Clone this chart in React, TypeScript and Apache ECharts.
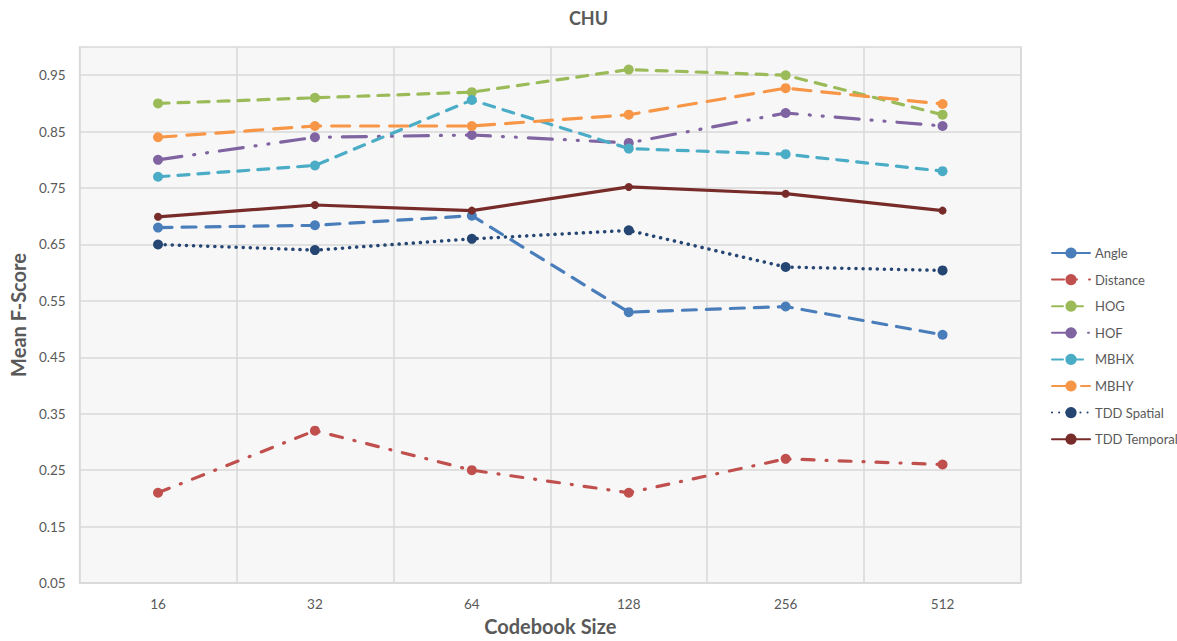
import React, { useEffect, useRef } from "react";
import * as echarts from "echarts";

const categories = ["16", "32", "64", "128", "256", "512"];
const yTicks = [0.05, 0.15, 0.25, 0.35, 0.45, 0.55, 0.65, 0.75, 0.85, 0.95];

const angle = [0.68, 0.684, 0.701, 0.53, 0.54, 0.49];
const distance = [0.21, 0.32, 0.25, 0.21, 0.27, 0.26];
const hog = [0.9, 0.91, 0.92, 0.96, 0.95, 0.88];
const hof = [0.8, 0.84, 0.844, 0.83, 0.883, 0.86];
const mbhx = [0.77, 0.79, 0.906, 0.82, 0.81, 0.78];
const mbhy = [0.84, 0.86, 0.86, 0.88, 0.927, 0.899];
const tddSpatial = [0.65, 0.64, 0.66, 0.675, 0.61, 0.604];
const tddTemporal = [0.699, 0.72, 0.71, 0.752, 0.74, 0.71];

const FONT = "Lato, 'Open Sans', sans-serif";
const TEXT = "#595959";

type S = { name: string; data: number[]; color: string; dash: number[] | "solid"; size: number; width?: number };

const seriesDefs: S[] = [
  { name: "Angle", data: angle, color: "#4a7ebb", dash: [14, 10], size: 10 },
  { name: "Distance", data: distance, color: "#c0504d", dash: [12, 12, 1, 12], size: 10 },
  { name: "HOG", data: hog, color: "#9bbb59", dash: [11, 9], size: 10 },
  { name: "HOF", data: hof, color: "#8064a2", dash: [24, 12, 1, 12, 1, 12], size: 10 },
  { name: "MBHX", data: mbhx, color: "#4bacc6", dash: [11, 9], size: 10 },
  { name: "MBHY", data: mbhy, color: "#f79646", dash: [18, 11], size: 10 },
  { name: "TDD Spatial", data: tddSpatial, color: "#254672", dash: [0.1, 7], size: 10, width: 3.5 },
  { name: "TDD Temporal", data: tddTemporal, color: "#772c2a", dash: "solid", size: 8 },
];

export default function App() {
  const ref = useRef<HTMLDivElement>(null);
  useEffect(() => {
    if (!ref.current) return;
    const chart = echarts.init(ref.current, null, { renderer: "svg" });
    chart.setOption({
      animation: false,
      backgroundColor: "#ffffff",
      textStyle: { fontFamily: FONT },
      title: {
        text: "CHU",
        left: "center",
        top: 4,
        textStyle: { fontFamily: FONT, fontSize: 18, fontWeight: "bold", color: TEXT },
      },
      grid: {
        left: 79,
        right: 156,
        top: 47,
        bottom: 58,
        show: true,
        backgroundColor: "#f7f7f7",
        borderColor: "#d9d9d9",
        borderWidth: 1.5,
      },
      legend: {
        orient: "vertical",
        left: 1046,
        top: 241,
        itemWidth: 38,
        itemHeight: 14,
        itemGap: 12.6,
        textStyle: { fontFamily: FONT, fontSize: 13, lineHeight: 14, color: TEXT },
        data: seriesDefs.map((s) => s.name),
      },
      xAxis: {
        type: "category",
        data: categories,
        boundaryGap: true,
        name: "Codebook Size",
        nameLocation: "middle",
        nameGap: 33,
        nameTextStyle: { fontFamily: FONT, fontSize: 20, fontWeight: "bold", color: TEXT },
        axisLine: { show: false },
        axisTick: { show: false },
        axisLabel: { fontFamily: FONT, fontSize: 13.5, color: TEXT, margin: 14 },
        splitLine: { show: true, interval: 0, lineStyle: { color: "#d9d9d9", width: 1.5 } },
      },
      yAxis: {
        type: "value",
        min: 0.05,
        max: 1.0,
        name: "Mean F-Score",
        nameLocation: "middle",
        nameGap: 42,
        nameTextStyle: { fontFamily: FONT, fontSize: 20, fontWeight: "bold", color: TEXT },
        axisLine: { show: false },
        axisTick: { show: false, customValues: yTicks },
        axisLabel: {
          fontFamily: FONT,
          fontSize: 13.5,
          color: TEXT,
          margin: 14,
          customValues: yTicks,
          formatter: (v: number) => v.toFixed(2),
        },
        splitLine: { show: true, lineStyle: { color: "#d9d9d9", width: 1.5 } },
      },
      series: seriesDefs.map((s) => ({
        name: s.name,
        type: "line",
        data: s.data,
        symbol: "circle",
        symbolSize: s.size,
        showSymbol: true,
        itemStyle: { color: s.color },
        lineStyle: { color: s.color, width: s.width ?? 3.2, type: s.dash, cap: "round" },
      })),
    });
    return () => chart.dispose();
  }, []);
  return <div ref={ref} style={{ width: 1177, height: 641, position: "absolute", left: 0, top: 0 }} />;
}
